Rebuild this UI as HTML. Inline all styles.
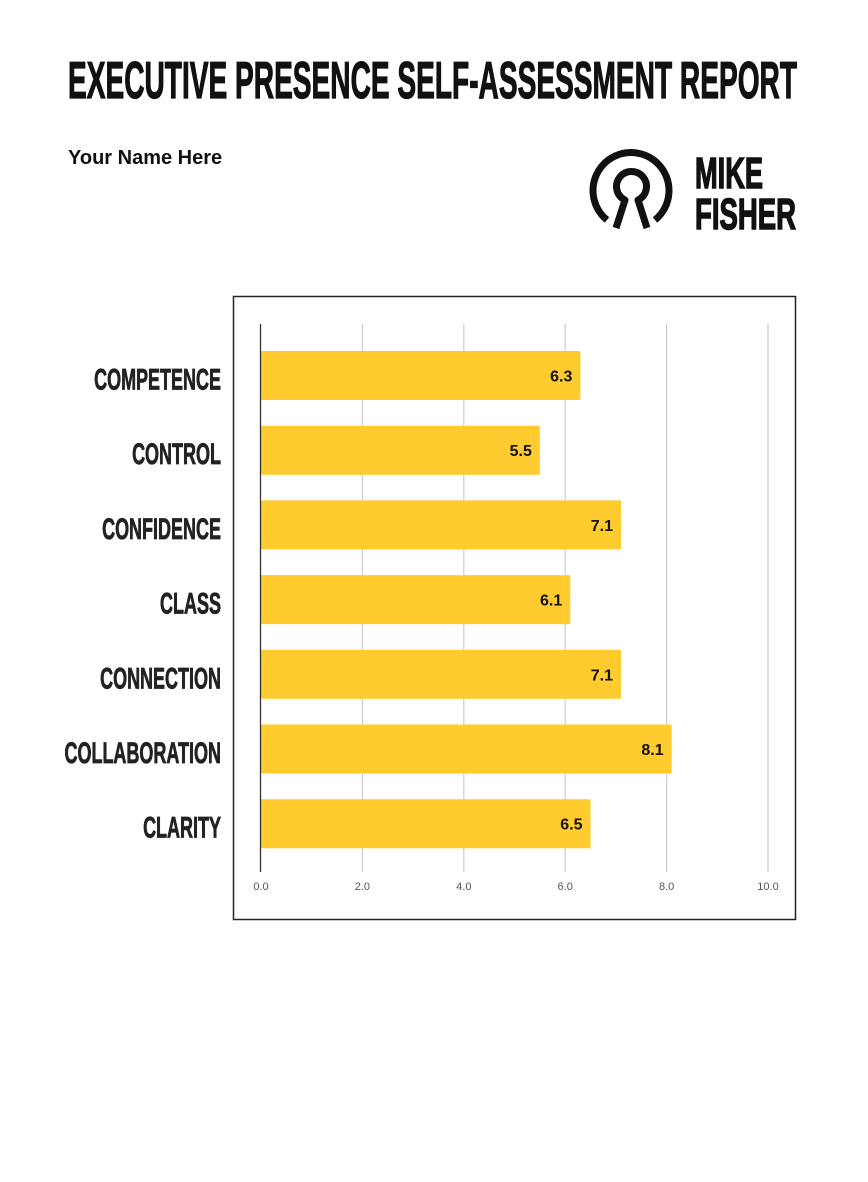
<!DOCTYPE html>
<html><head><meta charset="utf-8"><style>
body{margin:0;width:868px;height:1182px;background:#fff;position:relative;overflow:hidden;font-family:"Liberation Sans",sans-serif}
.t{position:absolute;white-space:nowrap}
</style></head><body>
<svg style="position:absolute;left:0;top:0" width="868" height="120">
<text x="68" y="98" font-size="52" font-weight="bold" fill="#111" textLength="729" lengthAdjust="spacingAndGlyphs" font-family="Liberation Sans" stroke="#111" stroke-width="1.2">EXECUTIVE PRESENCE SELF-ASSESSMENT REPORT</text>
</svg>
<div class="t" style="left:68px;top:147px;font-size:20px;font-weight:bold;color:#111">Your Name Here</div>
<svg style="position:absolute;left:580px;top:140px" width="230" height="100">
<path d="M27 80 A38 38 0 1 1 75 80" fill="none" stroke="#111" stroke-width="7"/>
<path d="M36 88 L45 60 A15 15 0 1 1 58 60 L67 88" fill="none" stroke="#111" stroke-width="7" stroke-linejoin="round"/>
<text x="115" y="48" font-size="44" font-weight="bold" fill="#111" textLength="68" lengthAdjust="spacingAndGlyphs" font-family="Liberation Sans" stroke="#111" stroke-width="1.5">MIKE</text>
<text x="115" y="89" font-size="44" font-weight="bold" fill="#111" textLength="101" lengthAdjust="spacingAndGlyphs" font-family="Liberation Sans" stroke="#111" stroke-width="1.5">FISHER</text>
</svg>
<svg id="chart" style="position:absolute;left:0;top:120px" width="868" height="1062"></svg>
<script>
const categories=["COMPETENCE","CONTROL","CONFIDENCE","CLASS","CONNECTION","COLLABORATION","CLARITY"];
const values=[6.3,5.5,7.1,6.1,7.1,8.1,6.5];
const ticks=[0,2,4,6,8,10];
const tickLabels=["0.0","2.0","4.0","6.0","8.0","10.0"];
const svg=document.getElementById('chart');const NS="http://www.w3.org/2000/svg";
svg.setAttribute('viewBox','0 120 868 1062');
function x(v){return 261+v*50.7;}
function y(i){return 351+i*74.7;}
const bh=49;
function mk(t,a,p){const e=document.createElementNS(NS,t);for(const k in a)e.setAttribute(k,a[k]);(p||svg).appendChild(e);return e;}
const frame=mk('rect',{x:233.5,y:296.5,width:562,height:623,fill:'none',stroke:'#222','stroke-width':1.5});


ticks.forEach((t,i)=>{
 if(i>0){const g=mk('line',{x1:x(t),x2:x(t),y1:324,y2:872,stroke:'#ccc','stroke-width':1.2});
 
 }
 const l=mk('text',{x:x(t),y:890,'text-anchor':'middle','font-size':11,fill:'#555','font-family':'Liberation Sans'});
 l.textContent=tickLabels[i];
 
 
});
categories.forEach((c,i)=>{
 const b=mk('rect',{x:x(0),y:y(i),width:x(values[i])-x(0),height:bh,fill:'#FFCB2E',rx:1});
 
 
 const v=mk('text',{x:x(values[i])-8,y:y(i)+bh/2+6,'text-anchor':'end','font-size':16,'font-weight':'bold',fill:'#111','font-family':'Liberation Sans'});
 v.textContent=values[i].toFixed(1);
 
 
 const l=mk('text',{x:0,y:0,'text-anchor':'end','font-size':30,'font-weight':'bold',fill:'#222',stroke:'#222','stroke-width':0.8,'font-family':'Liberation Sans',transform:`translate(221 ${y(i)+bh/2+14}) scale(0.6 1)`});
 l.textContent=c;
 
 
});
const ax=mk('line',{x1:260.5,x2:260.5,y1:324,y2:872,stroke:'#333','stroke-width':1.3});


</script>
</body></html>
